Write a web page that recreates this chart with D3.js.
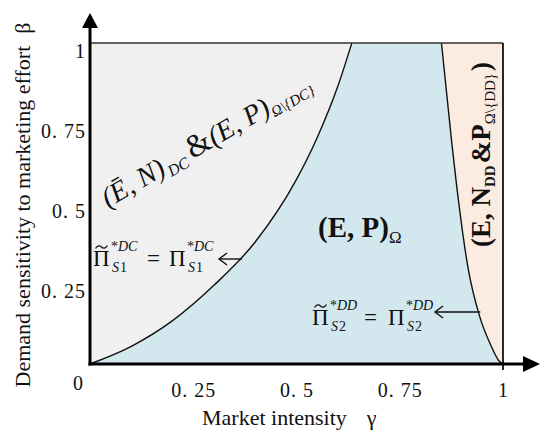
<!DOCTYPE html>
<html>
<head>
<meta charset="utf-8">
<script src="https://cdn.jsdelivr.net/npm/d3@7"></script>
<style>
body { margin: 0; background: #fff; }
svg text { font-family: "Liberation Serif", "Times New Roman", serif; fill: #111; }
</style>
</head>
<body>
<div id="chart"></div>
<script>
// boundary Π~S1*DC = ΠS1*DC (left curve)
const dcGamma = [0, 0.1, 0.2, 0.3, 0.4, 0.5, 0.55, 0.6, 0.634];
const dcBeta = [0, 0.055, 0.135, 0.245, 0.38, 0.575, 0.705, 0.865, 1];

// boundary Π~S2*DD = ΠS2*DD (right curve)
const ddGamma = [0.851, 0.874, 0.892, 0.915, 0.944, 0.97, 0.99, 1];
const ddBeta = [1, 0.713, 0.511, 0.302, 0.146, 0.06, 0.01, 0];

const xTicks = [0.25, 0.5, 0.75, 1];
const xTickLabels = ["0. 25", "0. 5", "0. 75", "1"];
const yTicks = [0.25, 0.5, 0.75, 1];
const yTickLabels = ["0. 25", "0. 5", "0. 75", "1"];

let width = 541,
    height = 430;

let x = d3.scaleLinear().domain([0, 1]).range([90, 503]);
let y = d3.scaleLinear().domain([0, 1]).range([364, 43]);

let svg = d3.select("#chart").append("svg")
    .attr("width", width)
    .attr("height", height);

let dcPts = dcGamma.map((g, i) => [g, dcBeta[i]]);
let ddPts = ddGamma.map((g, i) => [g, ddBeta[i]]);

let line = d3.line()
    .x(d => x(d[0]))
    .y(d => y(d[1]))
    .curve(d3.curveMonotoneX);

// regions
svg.append("rect")
    .attr("x", x(0)).attr("y", y(1))
    .attr("width", x(1) - x(0)).attr("height", y(0) - y(1))
    .attr("fill", "#f0f0f0");

svg.append("path")
    .attr("d", line(dcPts) + line(ddPts).replace("M", "L") + "Z")
    .attr("fill", "#d3e8ee");

svg.append("path")
    .attr("d", line(ddPts) + "L" + x(1) + "," + y(1) + "Z")
    .attr("fill", "#fcebe0");

// curves
[dcPts, ddPts].forEach(pts => {
    svg.append("path")
        .attr("d", line(pts))
        .attr("fill", "none")
        .attr("stroke", "#111")
        .attr("stroke-width", 1.4);
});

// frame
svg.append("line")
    .attr("x1", x(0)).attr("x2", x(1))
    .attr("y1", y(1)).attr("y2", y(1))
    .attr("stroke", "#333").attr("stroke-width", 1.5);
svg.append("line")
    .attr("x1", x(1)).attr("x2", x(1))
    .attr("y1", y(1)).attr("y2", y(0) + 6)
    .attr("stroke", "#111").attr("stroke-width", 1.8);

// thick axes with arrows
svg.append("line")
    .attr("x1", x(0)).attr("x2", x(0))
    .attr("y1", y(0) + 1.5).attr("y2", 27)
    .attr("stroke", "#000").attr("stroke-width", 3);
svg.append("path")
    .attr("d", `M${x(0)},13 L${x(0) - 8},28 L${x(0) + 8},28 Z`)
    .attr("fill", "#000");
svg.append("line")
    .attr("x1", x(0) - 1.5).attr("x2", 525)
    .attr("y1", y(0)).attr("y2", y(0))
    .attr("stroke", "#000").attr("stroke-width", 3);
svg.append("path")
    .attr("d", `M540,${y(0)} L523,${y(0) - 8} L523,${y(0) + 8} Z`)
    .attr("fill", "#000");

// tick labels
let xAxis = svg.append("g")
    .attr("transform", `translate(0,${y(0)})`)
    .call(d3.axisBottom(x).tickValues(xTicks)
        .tickFormat((d, i) => xTickLabels[i])
        .tickSize(0).tickPadding(19));
let yAxis = svg.append("g")
    .attr("transform", `translate(${x(0)},0)`)
    .call(d3.axisLeft(y).tickValues(yTicks)
        .tickFormat((d, i) => yTickLabels[i])
        .tickSize(0).tickPadding(4));
[xAxis, yAxis].forEach(a => {
    a.select(".domain").remove();
    a.attr("font-family", null).attr("font-size", null);
    a.selectAll("text")
        .style("font-family", "'Liberation Serif', serif")
        .style("font-size", "20px")
        .style("letter-spacing", "1px")
        .attr("fill", "#111");
});
yAxis.selectAll("text").attr("dy", "0.7em");

svg.append("text")
    .attr("x", 78).attr("y", 390)
    .attr("text-anchor", "middle")
    .style("font-size", "20px")
    .text("0");

// axis titles
let yTitle = svg.append("text")
    .attr("transform", "translate(30,205) rotate(-90)")
    .attr("text-anchor", "middle")
    .style("font-size", "22px")
    .text("Demand sensitivity to marketing effort");
yTitle.append("tspan").attr("dx", 12).text("β");

let xTitle = svg.append("text")
    .attr("x", 202).attr("y", 425)
    .style("font-size", "22px")
    .text("Market intensity");
xTitle.append("tspan").attr("dx", 20).text("γ");

// region labels
let lab1 = svg.append("text")
    .attr("transform", "translate(108,208) rotate(-30)")
    .style("font-size", "28px");
lab1.append("tspan").style("font-style", "italic").text("(Ē, N)");
lab1.append("tspan").style("font-style", "italic").style("font-size", "16px")
    .attr("dx", 2).attr("dy", 5).text("DC");
lab1.append("tspan").style("font-size", "32px")
    .attr("dx", 5).attr("dy", -5).text("&");
lab1.append("tspan").style("font-style", "italic").text("(E, P)");
lab1.append("tspan").style("font-style", "italic").style("font-size", "15px")
    .attr("dy", 5).text("Ω\\{DC}");

let lab2 = svg.append("text")
    .attr("x", 318).attr("y", 237)
    .style("font-size", "29px").style("font-weight", "bold")
    .text("(E, P)");
lab2.append("tspan").style("font-size", "17px").style("font-weight", "normal")
    .attr("dy", 6).text("Ω");

let lab3 = svg.append("text")
    .attr("transform", "translate(490,247) rotate(-90)")
    .style("font-size", "27px").style("font-weight", "bold");
lab3.append("tspan").text("(E, N");
lab3.append("tspan").style("font-size", "15px").attr("dy", 5).text("DD");
lab3.append("tspan").attr("dx", 2).attr("dy", -5).text("&P");
lab3.append("tspan").style("font-size", "15px").style("font-weight", "normal")
    .attr("dy", 5).text("Ω\\{DD}");
lab3.append("tspan").attr("dx", 2).attr("dy", -5).text(")");

// profit annotations
function piTerm(x0, base, sup, sub, tilde) {
    svg.append("text")
        .attr("x", x0).attr("y", base)
        .style("font-size", "23px")
        .text("Π");
    if (tilde) {
        let cx = x0 + 8.5, cy = base - 19;
        svg.append("path")
            .attr("d", `M${cx - 6},${cy + 1.5} Q${cx - 3},${cy - 3} ${cx},${cy} Q${cx + 3},${cy + 3} ${cx + 6},${cy - 1.5}`)
            .attr("fill", "none").attr("stroke", "#111").attr("stroke-width", 1.3);
    }
    let s = svg.append("text")
        .attr("x", x0 + 18).attr("y", base - 15)
        .style("font-size", "14px");
    s.append("tspan").text("*");
    s.append("tspan").style("font-style", "italic").text(sup);
    let b = svg.append("text")
        .attr("x", x0 + 19).attr("y", base + 6)
        .style("font-size", "14px");
    b.append("tspan").style("font-style", "italic").text(sub[0]);
    b.append("tspan").attr("dx", 1).text(sub[1]);
}

function leftArrow(x1, x2, yy) {
    svg.append("line")
        .attr("x1", x1).attr("x2", x2)
        .attr("y1", yy).attr("y2", yy)
        .attr("stroke", "#111").attr("stroke-width", 1.4);
    svg.append("path")
        .attr("d", `M${x1 + 8},${yy - 6} L${x1},${yy} L${x1 + 8},${yy + 6}`)
        .attr("fill", "none").attr("stroke", "#111").attr("stroke-width", 1.4);
}

piTerm(93, 266, "DC", "S1", true);
svg.append("text").attr("x", 147).attr("y", 266).style("font-size", "23px").text("=");
piTerm(169, 266, "DC", "S1", false);
leftArrow(219, x(0.368), 259);

piTerm(312, 325, "DD", "S2", true);
svg.append("text").attr("x", 364).attr("y", 325).style("font-size", "23px").text("=");
piTerm(388, 325, "DD", "S2", false);
leftArrow(435, x(0.945), 312);
</script>
</body>
</html>
